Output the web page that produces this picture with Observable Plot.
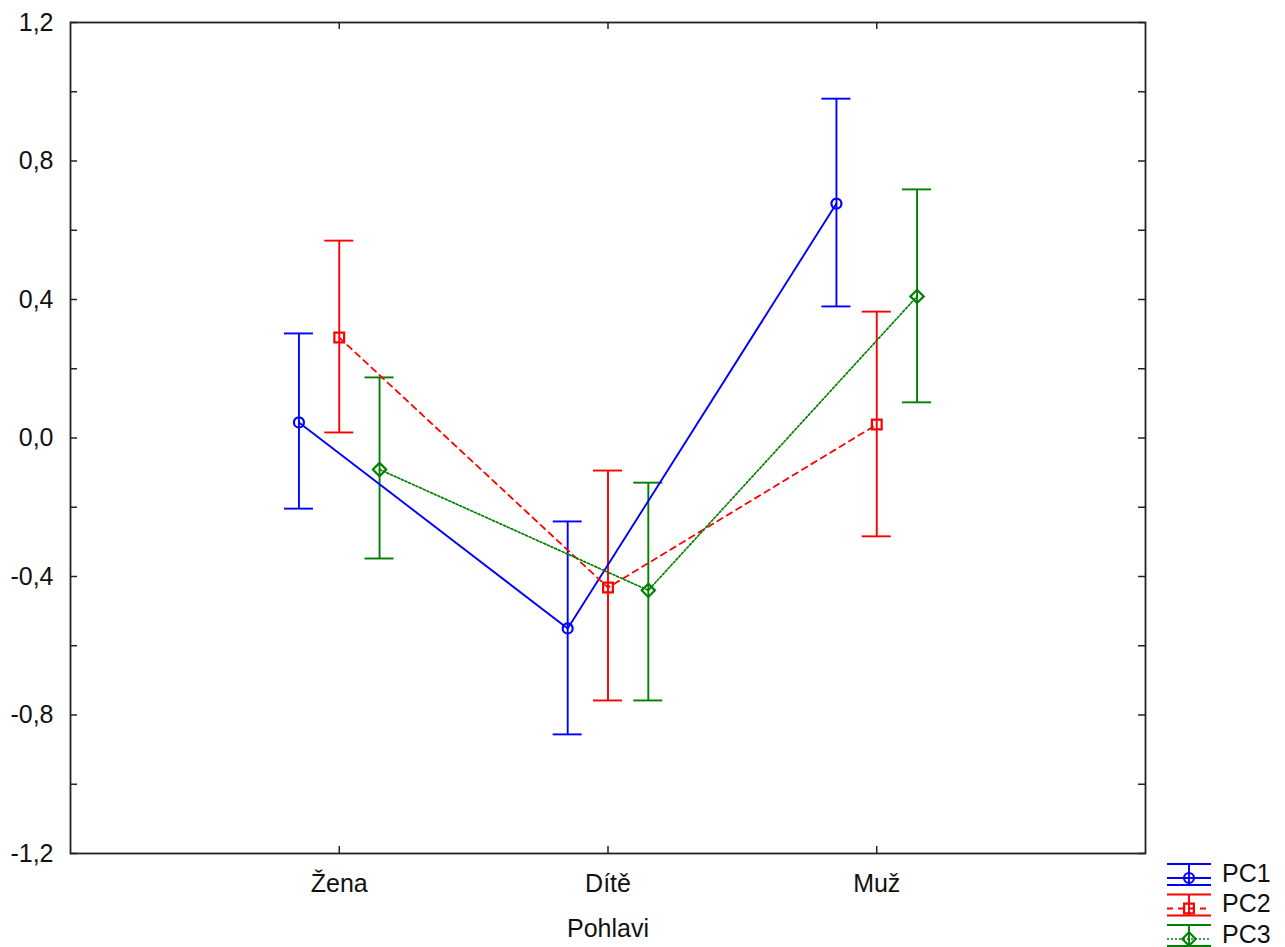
<!DOCTYPE html>
<html>
<head>
<meta charset="utf-8">
<script src="https://cdn.jsdelivr.net/npm/d3@7"></script>
<script src="https://cdn.jsdelivr.net/npm/@observablehq/plot@0.6"></script>
<style>
  html, body { margin: 0; padding: 0; background: #fff; }
  #wrap { position: relative; width: 1285px; height: 947px; overflow: hidden; }
  #legend { position: absolute; left: 1160px; top: 855px; }
  #legend text { font-family: Arial, "Liberation Sans", sans-serif; font-size: 25px; fill: #111; }
</style>
</head>
<body>
<div id="wrap"><div id="chart"></div><div id="legend"></div></div>
<script>
// ---- data ----
const categories = ["Žena", "Dítě", "Muž"];
const seriesNames = ["PC1", "PC2", "PC3"];
const pc1Mean = [0.045, -0.55, 0.677];
const pc1Lo   = [-0.204, -0.856, 0.38];
const pc1Hi   = [0.302, -0.241, 0.98];
const pc2Mean = [0.29, -0.432, 0.039];
const pc2Lo   = [0.016, -0.758, -0.284];
const pc2Hi   = [0.57, -0.094, 0.365];
const pc3Mean = [-0.091, -0.44, 0.409];
const pc3Lo   = [-0.348, -0.758, 0.103];
const pc3Hi   = [0.175, -0.129, 0.718];
const yTickLabels = [-1.2, -0.8, -0.4, 0, 0.4, 0.8, 1.2];
const yMinorTicks = [-1.2, -1.0, -0.8, -0.6, -0.4, -0.2, 0, 0.2, 0.4, 0.6, 0.8, 1.0, 1.2];
const xAxisLabel = "Pohlavi";

// ---- styles / layout ----
const colors = ["#0000FF", "#FF0000", "#008000"];
const dashes = [null, "6,5", "2,2"];
const lineW = [1.9, 1.8, 1.7];
const symbols = ["circle", "square", "diamond2"];
const symbolR = [5, 5.5, 6];
const offsets = [-0.15, 0, 0.15];
const capHalf = 0.054;
const W = 1285, H = 947;
const mL = 70, mR = 140, mT = 22, mB = 94;
const innerW = W - mL - mR, innerH = H - mT - mB;
const fontFamily = 'Arial, "Liberation Sans", sans-serif';

const means = [pc1Mean, pc2Mean, pc3Mean];
const los = [pc1Lo, pc2Lo, pc3Lo];
const his = [pc1Hi, pc2Hi, pc3Hi];
const rows = [];
seriesNames.forEach((s, k) => {
  categories.forEach((c, i) => {
    rows.push({series: s, k, cat: c, x: i + 1 + offsets[k], mean: means[k][i], lo: los[k][i], hi: his[k][i]});
  });
});

const fmt = d => d.toFixed(1).replace(".", ",");
const sw = 1.9;

const marks = [
  Plot.tickY(yMinorTicks, {y: d => d, insetRight: innerW - 7, stroke: "#222", strokeWidth: 1.5}),
  Plot.tickY(yMinorTicks, {y: d => d, insetLeft: innerW - 7, stroke: "#222", strokeWidth: 1.5}),
  Plot.tickX([1, 2, 3], {x: d => d, insetTop: innerH - 7, stroke: "#222", strokeWidth: 1.5}),
  Plot.tickX([1, 2, 3], {x: d => d, insetBottom: innerH - 7, stroke: "#222", strokeWidth: 1.5}),
  Plot.axisY({ticks: yTickLabels, tickSize: 0, tickPadding: 17, tickFormat: fmt, label: null, fontSize: 25}),
  Plot.axisX({ticks: [1, 2, 3], tickSize: 0, tickPadding: 21, tickFormat: d => categories[d - 1], label: null, fontSize: 25}),
  Plot.text([xAxisLabel], {text: d => d, frameAnchor: "bottom", dy: 75, lineAnchor: "middle", fontSize: 25}),
  Plot.ruleX(rows, {x: "x", y1: "lo", y2: "hi", stroke: d => colors[d.k], strokeWidth: sw}),
  Plot.ruleY(rows, {y: "hi", x1: d => d.x - capHalf, x2: d => d.x + capHalf, stroke: d => colors[d.k], strokeWidth: sw}),
  Plot.ruleY(rows, {y: "lo", x1: d => d.x - capHalf, x2: d => d.x + capHalf, stroke: d => colors[d.k], strokeWidth: sw}),
];
seriesNames.forEach((s, k) => {
  const r = rows.filter(d => d.k === k);
  marks.push(Plot.line(r, {x: "x", y: "mean", stroke: colors[k], strokeWidth: lineW[k], strokeDasharray: dashes[k]}));
});
seriesNames.forEach((s, k) => {
  const r = rows.filter(d => d.k === k);
  marks.push(Plot.dot(r, {x: "x", y: "mean", symbol: symbols[k], r: symbolR[k], fill: "none", stroke: colors[k], strokeWidth: 2.2}));
});
marks.push(Plot.frame({stroke: "#222", strokeWidth: 1.8}));

const chart = Plot.plot({
  width: W, height: H,
  marginLeft: mL, marginRight: mR, marginTop: mT, marginBottom: mB,
  x: {type: "linear", domain: [0, 4], axis: null},
  y: {domain: [-1.2, 1.2], axis: null},
  style: {fontFamily, fontSize: "25px", color: "#111", background: "#fff"},
  marks
});
document.getElementById("chart").appendChild(chart);

// ---- legend ----
const lg = d3.select("#legend").append("svg").attr("width", 125).attr("height", 92);
seriesNames.forEach((s, k) => {
  const ty = 18 + k * 30.5;             // text center
  const g = lg.append("g").attr("transform", `translate(0,${ty})`);
  const x0 = 7, x1 = 51, xm = 29;
  const capT = -9, capB = 12, mid = 5;
  g.append("line").attr("x1", x0).attr("x2", x1).attr("y1", capT).attr("y2", capT).attr("stroke", colors[k]).attr("stroke-width", sw);
  g.append("line").attr("x1", x0).attr("x2", x1).attr("y1", capB).attr("y2", capB).attr("stroke", colors[k]).attr("stroke-width", sw);
  g.append("line").attr("x1", xm).attr("x2", xm).attr("y1", capT).attr("y2", capB).attr("stroke", colors[k]).attr("stroke-width", sw);
  g.append("line").attr("x1", x0).attr("x2", x1).attr("y1", mid).attr("y2", mid).attr("stroke", colors[k]).attr("stroke-width", lineW[k])
    .attr("stroke-dasharray", dashes[k]);
  const symType = [d3.symbolCircle, d3.symbolSquare, d3.symbolDiamond2][k];
  g.append("path").attr("d", d3.symbol(symType, Math.PI * symbolR[k] * symbolR[k])())
    .attr("transform", `translate(${xm},${mid})`).attr("fill", "none").attr("stroke", colors[k]).attr("stroke-width", 2.2);
  g.append("text").attr("x", 62).attr("y", 0).attr("dy", "0.35em").text(s);
});
</script>
</body>
</html>
